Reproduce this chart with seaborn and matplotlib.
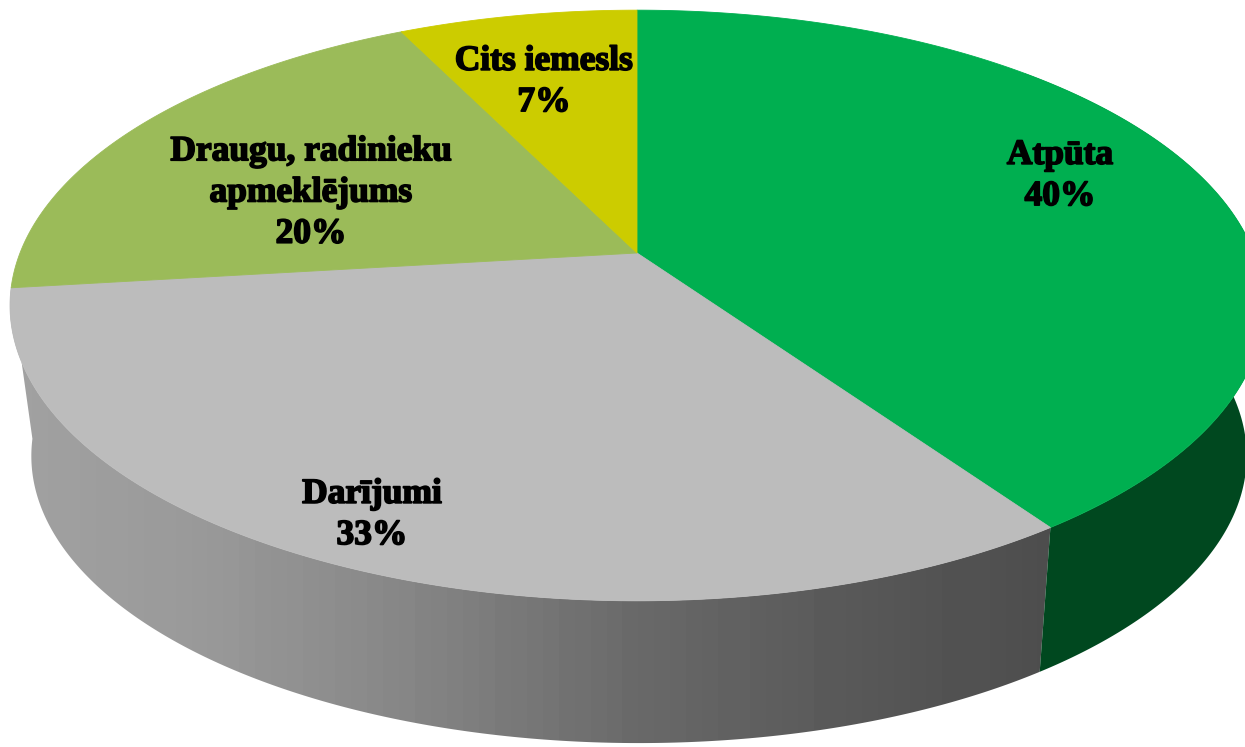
import numpy as np
import matplotlib
matplotlib.use("Agg")
import matplotlib.pyplot as plt
import matplotlib.patheffects as pe
from matplotlib.patches import Polygon
import seaborn as sns

categories = ["Atpūta", "Darījumi", "Draugu, radinieku\napmeklējums", "Cits iemesls"]
values = [40.3, 32.8, 19.6, 7.3]
top_colors = ["#00AF50", "#BCBCBC", "#9BBB59", "#CCCC00"]
wall_dark_green = "#00481F"
label_xy = [(1060, 176), (372, 515), (311, 193), (544, 82)]

sns.set_theme(style="white")
palette = sns.color_palette(top_colors)

W, H = 1245, 747
fig = plt.figure(figsize=(W / 100, H / 100), dpi=100, facecolor="white")
ax = fig.add_axes([0, 0, 1, 1])
ax.set_xlim(0, W)
ax.set_ylim(H, 0)
ax.axis("off")

K = 0.1777


def project(theta_deg, cx, cy, rx, ry):
    """Clockwise angle from 12 o'clock, seen on a tilted disc in perspective."""
    t = np.radians(theta_deg)
    u, v = np.sin(t), -np.cos(t)
    d = 1 - K * v
    return cx + rx * u / d, cy + ry * v / d


def top_rim(t):
    return project(t, 637, 253, 617, 286)


def low_rim(t):
    return project(t, 639, 405, 598, 278)


edges = np.concatenate([[0], np.cumsum(values)]) * 3.6

# side wall of the grey slice, with banded gradient
a, b = edges[1], edges[2]
ts = np.linspace(a, b, 240)
xt, yt = top_rim(ts)
xl, yl = low_rim(ts)
grey_poly = Polygon(np.r_[np.c_[xt, yt], np.c_[xl, yl][::-1]], closed=True,
                    facecolor="none", edgecolor="none", transform=ax.transData)
ax.add_patch(grey_poly)
xs = np.arange(0, W, 16)
levels = np.interp(xs, [14, 200, 400, 637, 850, 1050], [0.63, 0.60, 0.525, 0.41, 0.345, 0.30])
grad = np.repeat(levels[None, :], 2, axis=0)
im = ax.imshow(grad, extent=(0, W, H, 0), cmap="gray", vmin=0, vmax=1,
               aspect="auto", interpolation="nearest", zorder=1)
im.set_clip_path(grey_poly)

# side wall of the green slice
ts = np.linspace(45, edges[1], 240)
xt, yt = top_rim(ts)
xl, yl = low_rim(ts)
ax.fill(np.r_[xt, xl[::-1]], np.r_[yt, yl[::-1]], color=wall_dark_green, lw=0, zorder=1.5)

# top face
for start, stop, col in zip(edges[:-1], edges[1:], palette):
    ts = np.linspace(start, stop, 300)
    x, y = top_rim(ts)
    ax.fill(np.r_[637, x], np.r_[253, y], color=col, lw=0.6, zorder=2)

for cat, val, (x, y) in zip(categories, values, label_xy):
    ax.text(x, y, f"{cat}\n{val:.0f}%", ha="center", va="center", ma="center",
            family="Liberation Serif", fontweight="bold", fontsize=25.5,
            color="black", linespacing=1.33, zorder=3,
            path_effects=[pe.withStroke(linewidth=1.2, foreground="black")])

fig.savefig("out.png", dpi=100, facecolor="white")
